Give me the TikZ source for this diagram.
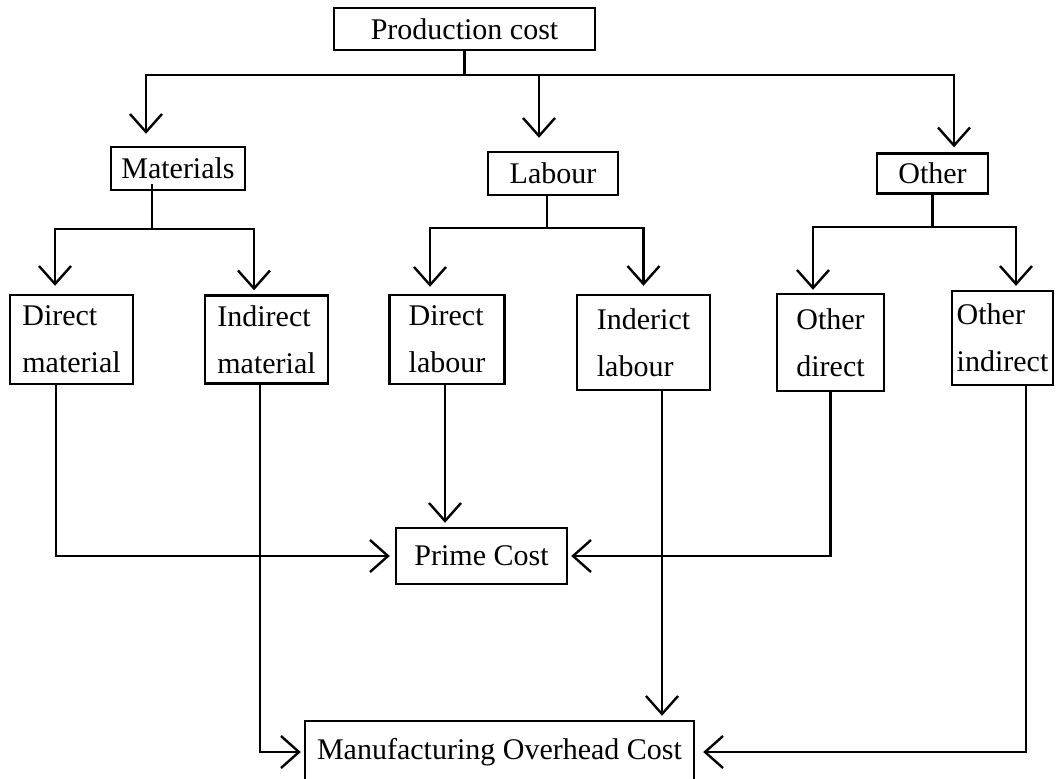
\documentclass[tikz,border=0pt]{standalone}
\usepackage{fontspec}
\setmainfont{Liberation Serif}
\usepackage{tikz}
\usetikzlibrary{positioning,arrows.meta}

\begin{document}
\begin{tikzpicture}[node distance=72pt, line width=1.2pt, >={Straight Barb[length=9pt,width=16pt]}, every node/.style={rectangle, draw, inner sep=0pt, align=center, font=\fontsize{15}{23.5}\selectfont}]
    \useasboundingbox (0,0) rectangle (529pt,-389pt);

    \node [minimum width=130.5pt, minimum height=21pt] (prod) at (232.25pt,-14.5pt) {Production cost};
    \node [below of=prod, node distance=72.25pt, xshift=44.25pt, minimum width=65pt, minimum height=21.5pt] (lab) {Labour};
    \node [left of=lab, node distance=187.5pt, yshift=2.5pt, minimum width=67pt, minimum height=21.5pt] (mat) {Materials};
    \node [right of=lab, node distance=189.75pt, minimum width=55.5pt, minimum height=20pt] (oth) {Other};
    \node [below of=lab, node distance=83pt, xshift=-53pt, minimum width=57.5pt, minimum height=44.5pt, align=left] (dlab) {Direct\\labour};
    \node [left of=dlab, node distance=187.75pt, minimum width=61.5pt, minimum height=44.5pt, align=left] (dmat) {Direct\\material};
    \node [left of=dlab, node distance=90.25pt, minimum width=61.5pt, minimum height=44pt, align=left] (imat) {Indirect\\material};
    \node [right of=dlab, node distance=98.25pt, yshift=-1.5pt, minimum width=66.5pt, minimum height=47.5pt, align=left] (ilab) {Inderict\\labour};
    \node [right of=ilab, node distance=93.5pt, minimum width=53.5pt, minimum height=48.5pt, align=left] (odir) {Other\\direct};
    \node [right of=odir, node distance=86pt, yshift=2.25pt, minimum width=50.5pt, minimum height=47pt, align=left] (oind) {Other\\indirect};
    \node [below of=dlab, node distance=108.25pt, xshift=17.25pt, minimum width=85.5pt, minimum height=28pt] (prime) {Prime Cost};
    \node [below of=prime, node distance=98pt, xshift=9pt, minimum width=194.5pt, minimum height=31pt] (moh) {Manufacturing Overhead Cost};

    % first level
    \draw [->, shorten >=6pt] (prod.south) -- ++(0,-12pt) -| ([xshift=-16pt]mat.north);
    \draw [->, shorten >=6.5pt] (prod.south) -- ++(0,-12pt) -| ([xshift=-7pt]lab.north);
    \draw [->, shorten >=2.5pt] (prod.south) -- ++(0,-12pt) -| ([xshift=10.75pt]oth.north);

    % second level
    \draw [->, shorten >=4pt] ([xshift=-13pt,yshift=3.5pt]mat.south) -- ++(0,-22.5pt) -| ([xshift=-8.25pt]dmat.north);
    \draw [->, shorten >=2pt] ([xshift=-13pt,yshift=3.5pt]mat.south) -- ++(0,-22.5pt) -| ([xshift=-6.25pt]imat.north);
    \draw [->, shorten >=3.5pt] ([xshift=-3pt]lab.south) -- ++(0,-16pt) -| ([xshift=-8.5pt]dlab.north);
    \draw [->, shorten >=4pt] ([xshift=-3pt]lab.south) -- ++(0,-16pt) -| (ilab.north);
    \draw [->, shorten >=1.5pt] (oth.south) -- ++(0,-16pt) -| ([xshift=-8.75pt]odir.north);
    \draw [->, shorten >=2pt] (oth.south) -- ++(0,-16pt) -| ([xshift=6.75pt]oind.north);

    % prime cost
    \draw [->, shorten >=2.5pt] ([xshift=-7.75pt]dmat.south) |- (prime.west);
    \draw [->, shorten >=2pt] ([xshift=-1pt]dlab.south) -- ([xshift=-18.25pt]prime.north);
    \draw [->, shorten >=1.5pt] (odir.south) |- (prime.east);

    % manufacturing overhead
    \draw [->, shorten >=1.5pt] ([xshift=-3.25pt]imat.south) |- (moh.west);
    \draw [->, shorten >=2pt] ([xshift=9.25pt]ilab.south) -- ([xshift=81.25pt]moh.north);
    \draw [->, shorten >=4pt] ([xshift=11.75pt]oind.south) |- (moh.east);
\end{tikzpicture}
\end{document}
